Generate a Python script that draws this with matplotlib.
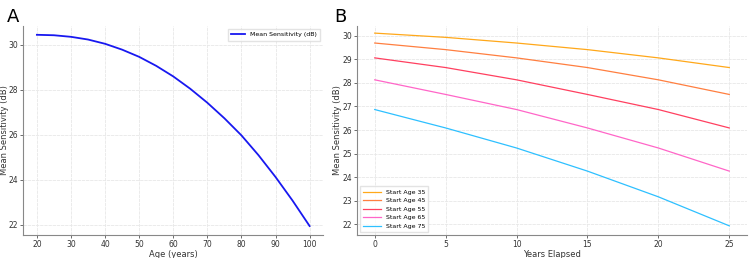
import matplotlib.pyplot as plt

# Panel A: mean sensitivity vs age
ages = [20, 25, 30, 35, 40, 45, 50, 55, 60, 65, 70, 75, 80, 85, 90, 95, 100]
mean_sens = [30.45, 30.43, 30.36, 30.24, 30.05, 29.79, 29.47, 29.07, 28.60,
             28.05, 27.43, 26.74, 25.98, 25.10, 24.13, 23.08, 21.95]

# Panel B: projected sensitivity by start age
years = [0, 5, 10, 15, 20, 25]
start_35 = [30.11, 29.93, 29.69, 29.41, 29.06, 28.65]
start_45 = [29.69, 29.41, 29.06, 28.65, 28.13, 27.51]
start_55 = [29.06, 28.65, 28.13, 27.51, 26.87, 26.09]
start_65 = [28.13, 27.51, 26.87, 26.09, 25.24, 24.26]
start_75 = [26.87, 26.09, 25.24, 24.26, 23.17, 21.94]
start_labels = ['Start Age 35', 'Start Age 45', 'Start Age 55', 'Start Age 65', 'Start Age 75']
start_colors = ['#FFA81A', '#FF7F40', '#FF4060', '#FF66C8', '#2EC0FF']


def style_axes(ax):
    ax.grid(True, color='#e8e8e8', linewidth=0.6, linestyle=(0, (4, 1)))
    ax.set_axisbelow(True)
    for side in ['top', 'right']:
        ax.spines[side].set_visible(False)
    for side in ['left', 'bottom']:
        ax.spines[side].set_color('#888888')
        ax.spines[side].set_linewidth(0.8)
    ax.tick_params(labelsize=5.5, colors='#333333', length=2, width=0.5, pad=1.5)


fig = plt.figure(figsize=(7.5, 2.58), dpi=100)
ax1 = fig.add_axes([0.031, 0.089, 0.40, 0.811])
ax2 = fig.add_axes([0.476, 0.089, 0.52, 0.811])

ax1.plot(ages, mean_sens, color='#1818F0', linewidth=1.3, label='Mean Sensitivity (dB)')
ax1.set_xlim(16, 104)
ax1.set_ylim(21.55, 30.85)
ax1.set_xticks([20, 30, 40, 50, 60, 70, 80, 90, 100])
ax1.set_yticks([22, 24, 26, 28, 30])
ax1.set_xlabel('Age (years)', fontsize=6, color='#333333', labelpad=1)
ax1.set_ylabel('Mean Sensitivity (dB)', fontsize=6, color='#333333')
ax1.yaxis.set_label_coords(-0.046, 0.5)
ax1.legend(loc='upper right', fontsize=4.5, frameon=True, fancybox=False,
           edgecolor='#dddddd', handlelength=2.2, borderpad=0.5)
style_axes(ax1)

series = [start_35, start_45, start_55, start_65, start_75]
for vals, lab, col in zip(series, start_labels, start_colors):
    ax2.plot(years, vals, color=col, linewidth=0.9, label=lab)
ax2.set_xlim(-1.25, 26.25)
ax2.set_ylim(21.55, 30.42)
ax2.set_xticks([0, 5, 10, 15, 20, 25])
ax2.set_yticks([22, 23, 24, 25, 26, 27, 28, 29, 30])
ax2.set_xlabel('Years Elapsed', fontsize=6, color='#333333', labelpad=1)
ax2.set_ylabel('Mean Sensitivity (dB)', fontsize=6, color='#333333')
ax2.yaxis.set_label_coords(-0.038, 0.5)
ax2.legend(loc='lower left', fontsize=4.5, frameon=True, fancybox=False,
           edgecolor='#dddddd', handlelength=2.8, labelspacing=0.5, borderpad=0.5)
style_axes(ax2)

fig.text(0.009, 0.97, 'A', fontsize=13, va='top', ha='left')
fig.text(0.446, 0.97, 'B', fontsize=13, va='top', ha='left')

fig.savefig('out.png', dpi=100)
